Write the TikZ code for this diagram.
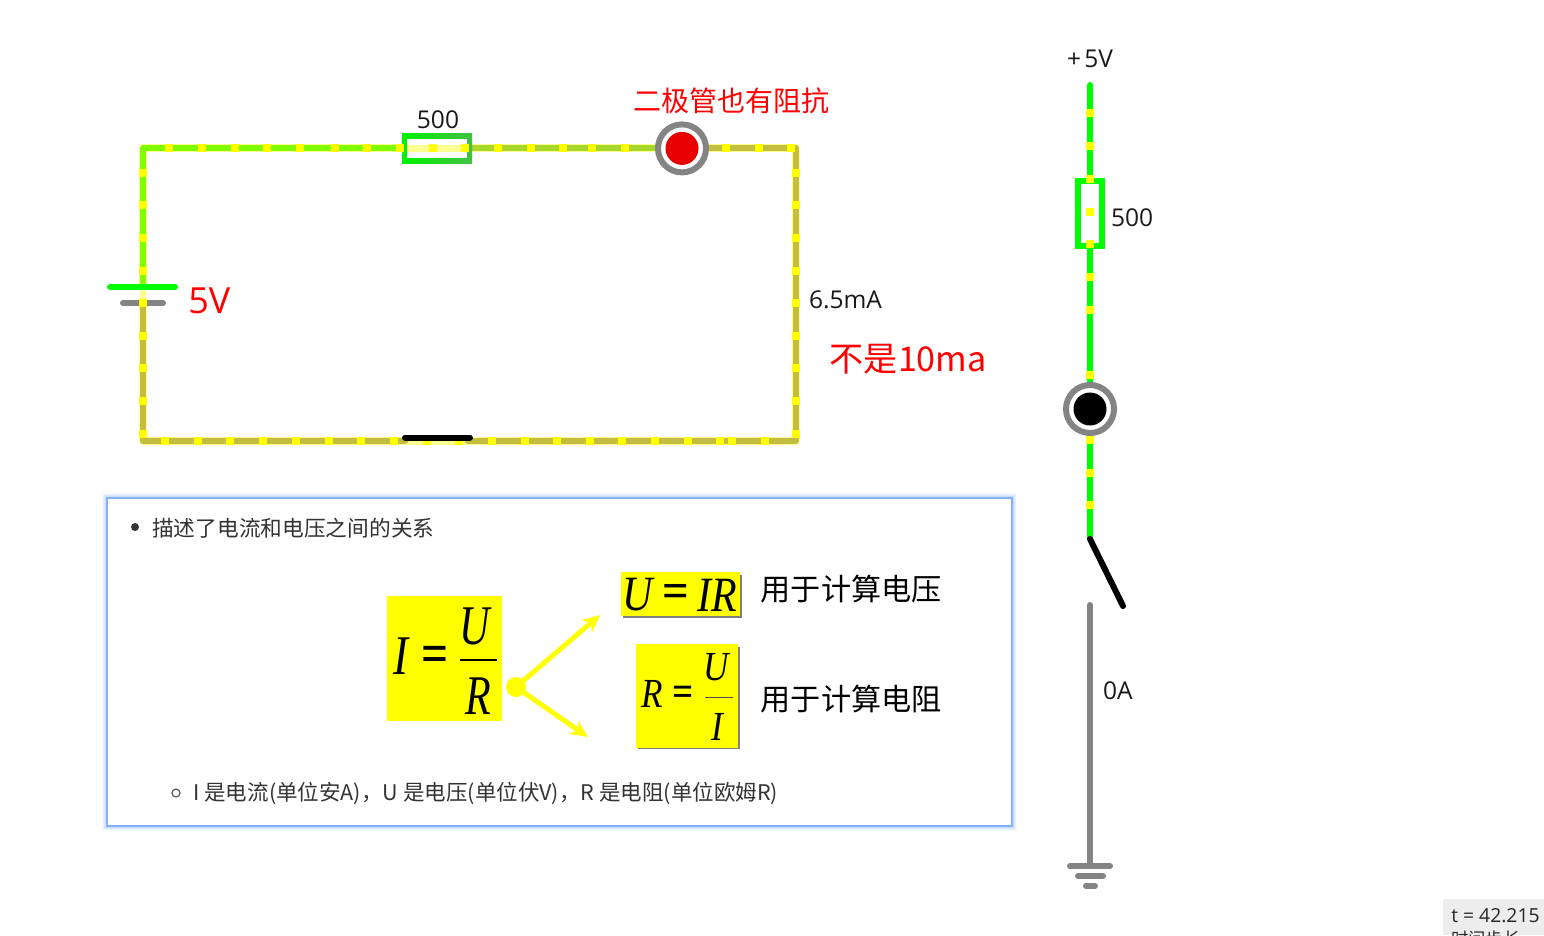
\documentclass[tikz,border=0pt]{standalone}
\usepackage{fontspec}
\setmainfont{Open Sans}
\newfontfamily\cjk{Noto Sans CJK SC}
\newfontfamily\tms{Liberation Serif}
\usetikzlibrary{arrows.meta,calc}
\definecolor{wA}{HTML}{80FF00}
\definecolor{wB}{HTML}{A8D82C}
\definecolor{wC}{HTML}{C4BE40}
\definecolor{halo}{HTML}{FFFF90}
\definecolor{gry}{HTML}{848484}
\definecolor{grn}{HTML}{00FF00}
\definecolor{redd}{HTML}{E80000}
\definecolor{rdt}{HTML}{FF0000}
\definecolor{yl}{HTML}{FFFF00}
\definecolor{txt}{HTML}{333333}
\definecolor{bdr}{HTML}{85B2FF}
\tikzset{
 x=0.75pt,y=-0.75pt,
 wire/.style={line width=4.5pt,line cap=round,line join=round},
 halow/.style={line width=6pt,line cap=round,line join=round,halo},
 lab/.style={inner sep=0pt,outer sep=0pt,font=\fontsize{18.4}{20}\selectfont,text=black!90},
 red lab/.style={inner sep=0pt,text=rdt,font=\cjk\fontsize{21}{24}\selectfont},
 note/.style={inner sep=0pt,text=txt,font=\cjk\fontsize{16.15}{18}\selectfont},
 use lab/.style={inner sep=0pt,text=black,font=\cjk\fontsize{22.6}{26}\selectfont},
 mth/.style={inner sep=0pt,font=\tms\itshape\fontsize{#1}{#1}\selectfont},
 meq/.style={inner sep=0pt,font=\tms\fontsize{#1}{#1}\selectfont},
 yb/.style={fill=yl},
 arr/.style={line width=3.75pt,yl,-{Stealth[length=13pt,width=12pt]}},
}
\newcommand{\hs}[2]{\fill[yb] ($(#1,#2)+(-4,-4)$) rectangle ($(#1,#2)+(4,4)$);}
\newcommand{\sx}[2]{\scalebox{#1}[1]{#2}}
\begin{document}
\begin{tikzpicture}
\useasboundingbox (0,0) rectangle (1544,935);
\fill[white] (0,0) rectangle (1544,935);
% ---------- left circuit
\coordinate (tl) at (143,148.4); \coordinate (tr) at (796,148.4);
\coordinate (br) at (796,441.4); \coordinate (bl) at (143,441.4);
\coordinate (rl) at (403,148.4); \coordinate (rr) at (470,148.4);
\coordinate (dc) at (682,148.4); \coordinate (bb) at (143,287); \coordinate (bg) at (143,303);
\coordinate (sl) at (405,441.4); \coordinate (sr) at (468,441.4);
\draw[halow] (bb) -- (tl) -- (tr) -- (br) -- (bl) -- (bg);
\draw[wire,wC] (bg) -- (bl) -- (sl);
\draw[wire,wC] (sr) -- (br) -- (tr) -- (dc);
\draw[wire,wB] (rr) -- (dc);
\draw[wire,wA] (bb) -- (tl) -- (rl);
% resistor
\shade[left color=grn!95!black,right color=green!50!gry] (402,133.5) rectangle (472,163);
\fill[white] (407,139) rectangle (467,157.5);
\fill[halo] (407,145) rectangle (467,152);
% battery
\draw[wire,grn] (110,287) -- (175,287);
\draw[wire,gry] (123,303) -- (163,303);
\fill[halo] (140,290) rectangle (146,300);
% squares
\foreach \x in {169,202,235,267,300,335,367,400,433,465,498,531,563,592,625,726,759,791} {\hs{\x}{148.4}}
\foreach \y in {173,205,238,271,303,336,368,401,434} {\hs{143}{\y}\hs{796}{\y}}
\foreach \x in {165,198,230,263,296,329,361,394,427,459,492,525,557,590,622,655,688,720,732,765} {\hs{\x}{441.4}}
% switch closed bar
\draw[wire,black] (405,437.5) -- (470,437.5);
% diode
\node[circle,draw=gry,line width=4.5pt,fill=white,minimum size=36pt,inner sep=0pt] (d1) at (dc) {};
\node[circle,fill=redd,minimum size=24.75pt,inner sep=0pt] (d1c) at (dc) {};
% labels
\node[lab] (r1) at (438,119.5) {500};
\node[red lab,anchor=west] (n1) at (633,100.5) {二极管也有阻抗};
\node[red lab,anchor=west,font=\fontsize{27}{30}\selectfont] (n2) at (188,300.5) {5V};
\node[lab,anchor=west] (n3) at (809,299.5) {6.5mA};
\node[red lab,anchor=west,font=\cjk\fontsize{25.6}{28}\selectfont] (n4) at (829.5,359.5) {不是10ma};
% ---------- right column
\coordinate (vt) at (1090,85); \coordinate (vd) at (1090,409); \coordinate (vs) at (1090,539);
\coordinate (sw) at (1123,606); \coordinate (gt) at (1090,605); \coordinate (gb) at (1090,866);
\draw[wire,grn] (vt) -- (vs);
\fill[grn] (1075,178) rectangle (1105,249);
\fill[white] (1081,184) rectangle (1099,243);
\foreach \y in {113,146,179,212,244,277,310,375,440,473,505} {\fill[yb] (1086,\y-4) rectangle (1094,\y+4);}
\node[circle,draw=gry,line width=4.5pt,fill=white,minimum size=36pt,inner sep=0pt] (d2) at (vd) {};
\node[circle,fill=black,minimum size=24.75pt,inner sep=0pt] (d2c) at (vd) {};
\draw[wire,black] (vs) -- (sw);
\draw[wire,gry] (gt) -- (gb);
\draw[wire,gry] (1070,866) -- (1110,866);
\draw[wire,gry] (1078,876) -- (1103,876);
\draw[wire,gry] (1086,886) -- (1095,886);
\node[lab,anchor=west] (l1) at (1067,58.5) {+\kern2.5pt 5V};
\node[lab,anchor=west] (l2) at (1111,217.5) {500};
\node[lab,anchor=west] (l3) at (1103,690.5) {0A};
% ---------- panel
\foreach \g/\o in {10/0.06,8/0.10,6/0.14,4/0.20} {\draw[bdr,opacity=\o,line width=\g*0.75pt] (107,498) rectangle (1012,826);}
\draw[bdr,line width=1.5pt,fill=white] (107,498) rectangle (1012,826);
\fill[txt] (135,527) circle[radius=4];
\node[note,anchor=west,font=\cjk\fontsize{16.28}{18}\selectfont] (p1) at (152,528) {描述了电流和电压之间的关系};
\draw[txt!80,line width=0.9pt] (176,793) circle[radius=4];
\node[note,anchor=west] (p2) at (193,793.5) {I 是电流(单位安A)，U 是电压(单位伏V)，R 是电阻(单位欧姆R)};
% formula I=U/R
\fill[yl] (387,596) rectangle (502,721);
\node[mth=42] (fi) at (401,656) {\sx{.8}{I}};
\node[meq=42] (fe) at (435.5,659) {\sx{.85}{\textbf{=}}};
\draw[black,line width=1pt] (460,660) -- (497,660);
\node[mth=42] (fu) at (475,626) {\sx{.75}{U}};
\node[mth=42] (fr) at (478,696) {\sx{.75}{R}};
% arrows
\node[circle,fill=yl,minimum size=15pt,inner sep=0pt] (hub) at (516,687) {};
\coordinate (a1) at (600,615); \coordinate (a2) at (588,737);
\draw[arr] (hub.center) -- (a1);
\draw[arr] (hub.center) -- (a2);
% U=IR
\fill[gray] (623,575) rectangle (742,618);
\fill[yl] (621,572) rectangle (740,616);
\node[mth=37] (f2a) at (638,595) {\sx{.85}{U}};
\node[meq=37] (f2b) at (676,596) {\sx{.95}{\textbf{=}}};
\node[mth=37] (f2c) at (717,595) {\sx{.85}{IR}};
% R=U/I
\fill[gray] (638,647) rectangle (740,749);
\fill[yl] (636,644) rectangle (738,748);
\node[mth=31] (f3a) at (652,694) {\sx{.85}{R}};
\node[meq=31] (f3b) at (683,696) {\sx{.9}{\textbf{=}}};
\draw[black!70,line width=0.6pt] (705,697) -- (733,697);
\node[mth=31] (f3c) at (716,667) {\sx{.85}{U}};
\node[mth=31] (f3d) at (717,727) {\sx{.85}{I}};
\node[use lab,anchor=west] (u1) at (760.5,589) {用于计算电压};
\node[use lab,anchor=west] (u2) at (760.5,699) {用于计算电阻};
% ---------- timer
\begin{scope}
\clip (0,0) rectangle (1544,935);
\fill[black!7] (1443,899) rectangle (1544,935);
\node[anchor=west,inner sep=0pt,text=black!85,font=\fontsize{14.5}{16}\selectfont] (t1) at (1451,915.5) {t = 42.215};
\node[anchor=west,inner sep=0pt,text=black!85,font=\cjk\fontsize{13}{16}\selectfont] (t2) at (1451,939) {时间步长};
\end{scope}
\end{tikzpicture}
\end{document}
